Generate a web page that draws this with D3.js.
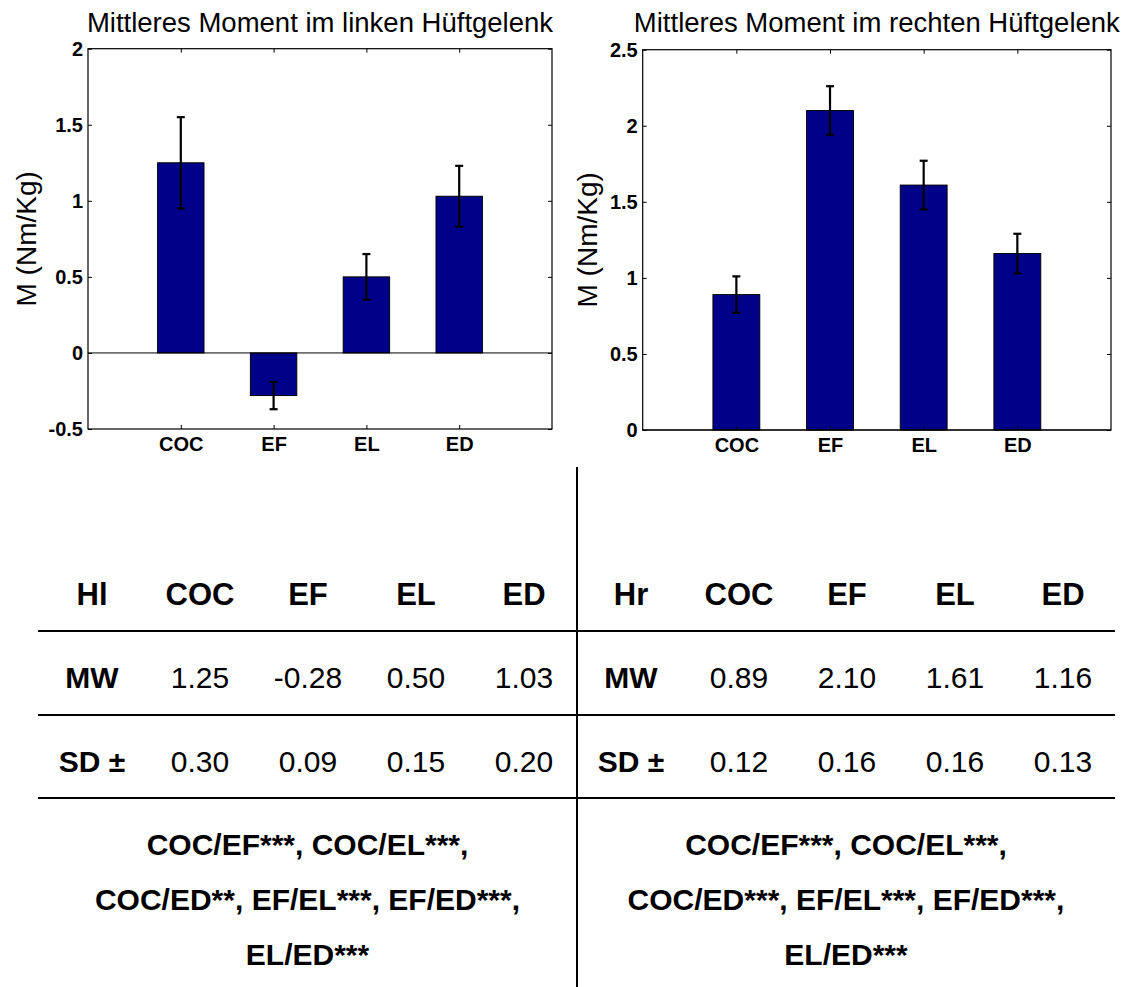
<!DOCTYPE html>
<html>
<head>
<meta charset="utf-8">
<script src="https://cdn.jsdelivr.net/npm/d3@7"></script>
<style>
  body { margin: 0; background: #fff; }
  text { font-family: "Liberation Sans", Arial, sans-serif; fill: #000; }
</style>
</head>
<body>
<div id="wrapper"></div>
<script>
// data
const categories = ["COC", "EF", "EL", "ED"]
const leftMean = [1.25, -0.28, 0.50, 1.03]
const leftSD = [0.30, 0.09, 0.15, 0.20]
const rightMean = [0.89, 2.10, 1.61, 1.16]
const rightSD = [0.12, 0.16, 0.16, 0.13]
const leftTicks = [-0.5, 0, 0.5, 1, 1.5, 2]
const rightTicks = [0, 0.5, 1, 1.5, 2, 2.5]
const leftTitle = "Mittleres Moment im linken Hüftgelenk"
const rightTitle = "Mittleres Moment im rechten Hüftgelenk"
const yLabel = "M (Nm/Kg)"
const rowLabels = ["MW", "SD ±"]
const leftCorner = "Hl"
const rightCorner = "Hr"
const leftComparisons = ["COC/EF***, COC/EL***,", "COC/ED**, EF/EL***, EF/ED***,", "EL/ED***"]
const rightComparisons = ["COC/EF***, COC/EL***,", "COC/ED***, EF/EL***, EF/ED***,", "EL/ED***"]

const width = 1131, height = 987
const svg = d3.select("#wrapper").append("svg")
    .attr("width", width)
    .attr("height", height)

function drawChart(opt) {
    const g = svg.append("g")
    const xScale = d3.scaleLinear().domain([0, 5]).range([opt.x0, opt.x1])
    const yScale = d3.scaleLinear().domain(opt.domain).range([opt.y1, opt.y0])

    // bars
    g.selectAll("rect.bar").data(opt.mean).join("rect")
        .attr("class", "bar")
        .attr("x", (d, i) => xScale(i + 1 - 0.25))
        .attr("width", xScale(0.5) - xScale(0))
        .attr("y", d => yScale(Math.max(d, 0)))
        .attr("height", d => Math.abs(yScale(d) - yScale(0)))
        .attr("fill", "#000088")
        .attr("stroke", "#000")
        .attr("stroke-width", 1)

    // baseline
    g.append("line")
        .attr("x1", opt.x0).attr("x2", opt.x1)
        .attr("y1", yScale(0)).attr("y2", yScale(0))
        .attr("stroke", "#000").attr("stroke-width", 1)

    // error bars
    const err = g.selectAll("g.err").data(opt.mean).join("g").attr("class", "err")
    err.append("line")
        .attr("x1", (d, i) => xScale(i + 1)).attr("x2", (d, i) => xScale(i + 1))
        .attr("y1", (d, i) => yScale(d - opt.sd[i]))
        .attr("y2", (d, i) => yScale(d + opt.sd[i]))
    err.append("line")
        .attr("x1", (d, i) => xScale(i + 1) - 4).attr("x2", (d, i) => xScale(i + 1) + 4)
        .attr("y1", (d, i) => yScale(d - opt.sd[i])).attr("y2", (d, i) => yScale(d - opt.sd[i]))
    err.append("line")
        .attr("x1", (d, i) => xScale(i + 1) - 4).attr("x2", (d, i) => xScale(i + 1) + 4)
        .attr("y1", (d, i) => yScale(d + opt.sd[i])).attr("y2", (d, i) => yScale(d + opt.sd[i]))
    err.selectAll("line").attr("stroke", "#000").attr("stroke-width", 2.2)

    // axes, ticks inside
    const fmt = d => String(d)
    const xTickVals = [1, 2, 3, 4]
    g.append("g")
        .attr("transform", `translate(0,${opt.y1})`)
        .call(d3.axisBottom(xScale).tickValues(xTickVals)
            .tickFormat((d, i) => categories[i]).tickSizeInner(-4).tickSizeOuter(0).tickPadding(8))
    g.append("g")
        .attr("transform", `translate(0,${opt.y0})`)
        .call(d3.axisTop(xScale).tickValues(xTickVals).tickFormat("").tickSizeInner(-4).tickSizeOuter(0))
    g.append("g")
        .attr("transform", `translate(${opt.x0},0)`)
        .call(d3.axisLeft(yScale).tickValues(opt.ticks).tickFormat(fmt)
            .tickSizeInner(-4).tickSizeOuter(0).tickPadding(5))
    g.append("g")
        .attr("transform", `translate(${opt.x1},0)`)
        .call(d3.axisRight(yScale).tickValues(opt.ticks).tickFormat("").tickSizeInner(-4).tickSizeOuter(0))
    g.selectAll(".domain").remove()
    g.selectAll(".tick line").attr("stroke", "#000")
    g.selectAll(".tick text")
        .style("font-size", "20px")
        .style("font-weight", "bold")
        .attr("fill", "#000")

    // box
    g.append("rect")
        .attr("x", opt.x0).attr("y", opt.y0)
        .attr("width", opt.x1 - opt.x0).attr("height", opt.y1 - opt.y0)
        .attr("fill", "none").attr("stroke", "#000").attr("stroke-width", 1.2)

    g.append("text")
        .attr("x", (opt.x0 + opt.x1) / 2).attr("y", 32)
        .attr("text-anchor", "middle")
        .style("font-size", "27.5px")
        .text(opt.title)

    g.append("text")
        .attr("transform", `translate(${opt.labelX},${(opt.y0 + opt.y1) / 2}) rotate(-90)`)
        .attr("text-anchor", "middle")
        .style("font-size", "28px")
        .text(yLabel)
}

drawChart({x0: 88, x1: 552, y0: 48.7, y1: 429, domain: [-0.5, 2], ticks: leftTicks,
    mean: leftMean, sd: leftSD, title: leftTitle, labelX: 36})
drawChart({x0: 642.7, x1: 1111, y0: 49.7, y1: 430, domain: [0, 2.5], ticks: rightTicks,
    mean: rightMean, sd: rightSD, title: rightTitle, labelX: 597})

// table below
function drawTable(x0, colStep, lineX1, lineX2, corner, mean, sd, comparisons) {
    const t = svg.append("g")
    const colX = d => x0 + colStep * d
    const header = [corner].concat(categories)
    t.selectAll("text.head").data(header).join("text")
        .attr("class", "head")
        .attr("x", (d, i) => colX(i)).attr("y", 605)
        .attr("text-anchor", "middle")
        .style("font-size", "31px").style("font-weight", "bold")
        .text(d => d)
    const rows = [mean, sd]
    rows.forEach((vals, r) => {
        const y = r === 0 ? 688 : 772
        t.append("text")
            .attr("x", colX(0)).attr("y", y)
            .attr("text-anchor", "middle")
            .style("font-size", "30px").style("font-weight", "bold")
            .text(rowLabels[r])
        t.selectAll("text.v" + r).data(vals).join("text")
            .attr("class", "v" + r)
            .attr("x", (d, i) => colX(i + 1)).attr("y", y)
            .attr("text-anchor", "middle")
            .style("font-size", "30px")
            .text(d => d.toFixed(2))
    })
    ;[631, 715, 798].forEach(y => {
        t.append("line")
            .attr("x1", lineX1).attr("x2", lineX2)
            .attr("y1", y).attr("y2", y)
            .attr("stroke", "#000").attr("stroke-width", 2)
    })
    t.selectAll("text.cmp").data(comparisons).join("text")
        .attr("class", "cmp")
        .attr("x", (lineX1 + lineX2) / 2)
        .attr("y", (d, i) => 855 + i * 55)
        .attr("text-anchor", "middle")
        .style("font-size", "30px").style("font-weight", "bold")
        .text(d => d)
}

drawTable(92, 108, 38, 577, leftCorner, leftMean, leftSD, leftComparisons)
drawTable(631, 108, 577, 1115, rightCorner, rightMean, rightSD, rightComparisons)

svg.append("line")
    .attr("x1", 577).attr("x2", 577)
    .attr("y1", 467).attr("y2", height)
    .attr("stroke", "#000").attr("stroke-width", 2)
</script>
</body>
</html>
